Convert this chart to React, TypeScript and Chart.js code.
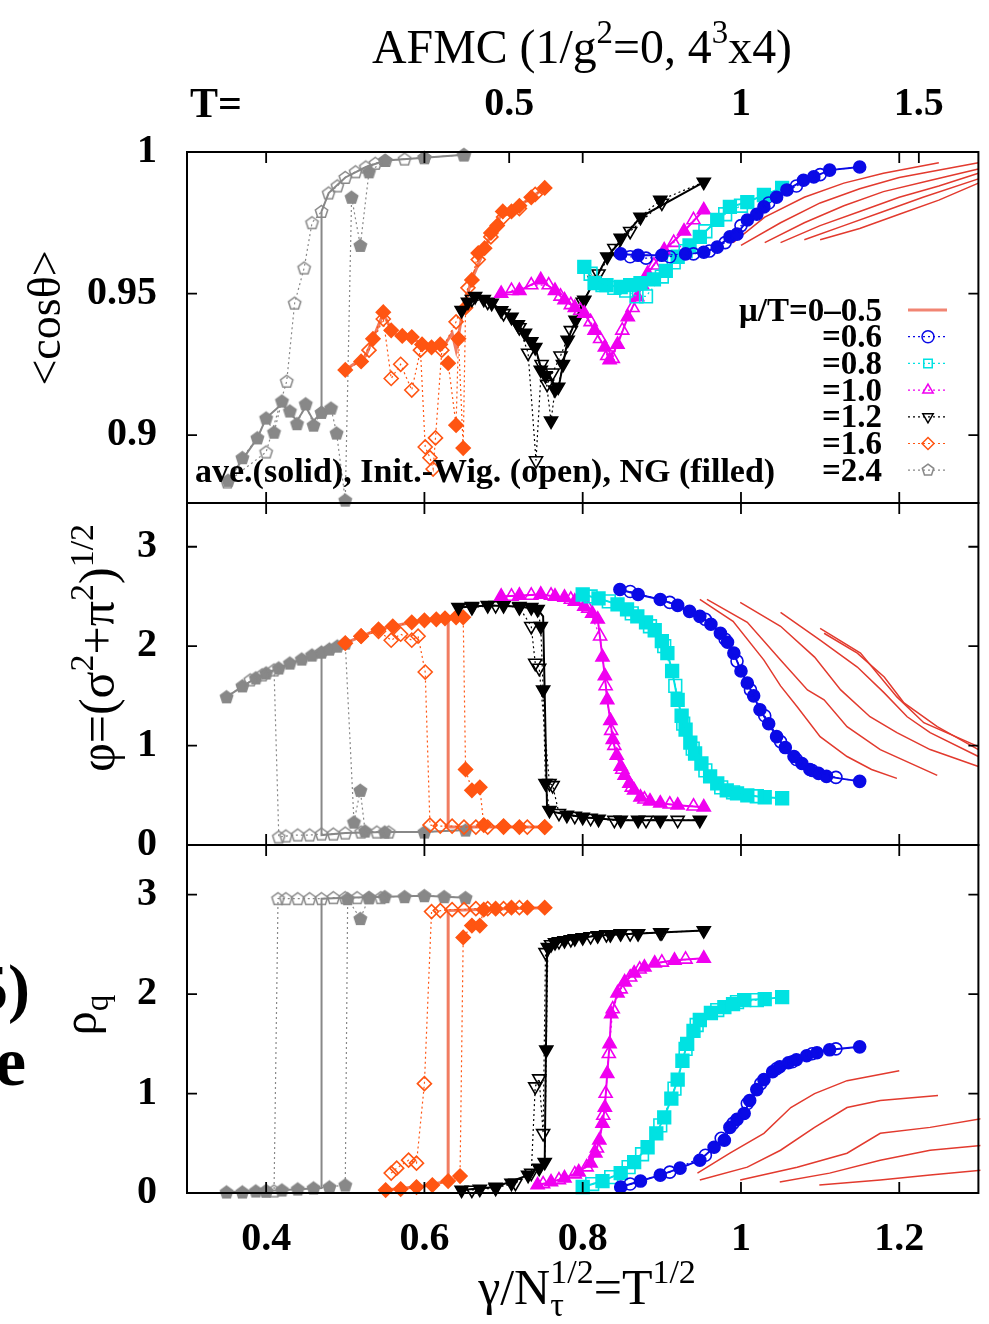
import React, { useEffect, useRef } from 'react';
import { Chart, registerables } from 'chart.js';

Chart.register(...registerables);

type Pt = [number, number];

// ---------- axes / labels ----------
const X_TICKS = [0.4, 0.6, 0.8, 1.0, 1.2];
const T_TICKS = [0.5, 1, 1.5];
const COS_TICKS = [0.9, 0.95, 1.0];
const PHI_TICKS = [0, 1, 2, 3];
const RHO_TICKS = [0, 1, 2, 3];
const LEGEND_LABELS = ['μ/T=0–0.5', '=0.6', '=0.8', '=1.0', '=1.2', '=1.6', '=2.4'];
const NOTE_TEXT = 'ave.(solid), Init.-Wig. (open), NG (filled)';

// ---------- <cos theta> panel ----------
const GRAY_COS_WIG: Pt[] = [[0.351,0.8834],[0.40,0.894],[0.426,0.919],[0.436,0.9466],[0.448,0.959],[0.458,0.975],[0.47,0.979],[0.479,0.9855],[0.49,0.988],[0.50,0.991],[0.513,0.993],[0.526,0.9947],[0.538,0.996],[0.551,0.997],[0.575,0.9975],[0.60,0.998],[0.65,0.999]];
const GRAY_COS_NG: Pt[] = [[0.352,0.884],[0.37,0.892],[0.389,0.899],[0.40,0.906],[0.41,0.901],[0.42,0.912],[0.43,0.9085],[0.439,0.904],[0.45,0.911],[0.46,0.9035],[0.47,0.908],[0.482,0.9095],[0.489,0.9007],[0.50,0.877],[0.508,0.984],[0.519,0.967],[0.53,0.993],[0.55,0.997],[0.60,0.998],[0.65,0.999]];
const GRAY_COS_AVE: Pt[] = [[0.352,0.884],[0.389,0.899],[0.40,0.906],[0.42,0.911],[0.439,0.905],[0.45,0.91],[0.46,0.905],[0.47,0.908],[0.47,0.979],[0.479,0.9855],[0.50,0.991],[0.526,0.9947],[0.551,0.997],[0.60,0.998],[0.65,0.999]];

const ORANGE_COS_WIG: Pt[] = [[0.53,0.93],[0.548,0.941],[0.558,0.920],[0.57,0.925],[0.584,0.9159],[0.595,0.93],[0.601,0.8958],[0.607,0.892],[0.611,0.888],[0.614,0.899],[0.622,0.93],[0.64,0.94],[0.655,0.952],[0.668,0.962],[0.684,0.97],[0.70,0.977],[0.72,0.98],[0.74,0.985]];
const ORANGE_COS_NG: Pt[] = [[0.50,0.923],[0.52,0.926],[0.535,0.934],[0.548,0.9434],[0.558,0.937],[0.572,0.935],[0.584,0.9346],[0.597,0.932],[0.609,0.931],[0.62,0.932],[0.63,0.9254],[0.64,0.9035],[0.643,0.934],[0.649,0.8954],[0.652,0.945],[0.66,0.9548],[0.668,0.9643],[0.676,0.966],[0.684,0.9714],[0.692,0.974],[0.699,0.979],[0.71,0.979],[0.72,0.981],[0.735,0.984],[0.752,0.9873]];
const ORANGE_COS_AVE: Pt[] = [[0.50,0.923],[0.526,0.928],[0.548,0.943],[0.56,0.936],[0.584,0.934],[0.609,0.931],[0.626,0.932],[0.635,0.936],[0.64,0.93],[0.649,0.945],[0.66,0.955],[0.684,0.971],[0.699,0.979],[0.72,0.981],[0.752,0.9873]];

const BLACK_COS_WIG: Pt[] = [[0.66,0.948],[0.68,0.947],[0.70,0.943],[0.72,0.938],[0.731,0.929],[0.741,0.891],[0.748,0.925],[0.755,0.918],[0.762,0.922],[0.772,0.928],[0.785,0.937],[0.80,0.947],[0.82,0.957],[0.84,0.966],[0.86,0.972],[0.90,0.982]];
const BLACK_COS_NG: Pt[] = [[0.647,0.9441],[0.655,0.947],[0.664,0.949],[0.675,0.948],[0.685,0.9466],[0.697,0.944],[0.71,0.9417],[0.718,0.939],[0.727,0.936],[0.735,0.933],[0.74,0.931],[0.747,0.923],[0.753,0.921],[0.76,0.905],[0.765,0.916],[0.769,0.917],[0.775,0.925],[0.781,0.9336],[0.791,0.9406],[0.802,0.9477],[0.815,0.9547],[0.831,0.963],[0.848,0.9696],[0.873,0.977],[0.898,0.983],[0.953,0.9894]];
const BLACK_COS_AVE: Pt[] = [[0.647,0.944],[0.664,0.949],[0.685,0.9466],[0.71,0.9417],[0.727,0.936],[0.74,0.931],[0.747,0.924],[0.76,0.9195],[0.769,0.916],[0.781,0.9336],[0.802,0.9477],[0.831,0.963],[0.873,0.977],[0.953,0.9894]];

const MAG_COS_WIG: Pt[] = [[0.71,0.951],[0.735,0.953],[0.757,0.953],[0.772,0.949],[0.785,0.946],[0.797,0.944],[0.81,0.94],[0.822,0.934],[0.831,0.928],[0.838,0.927],[0.85,0.937],[0.863,0.945],[0.875,0.953],[0.89,0.96],[0.915,0.968],[0.94,0.976]];
const MAG_COS_NG: Pt[] = [[0.697,0.950],[0.72,0.951],[0.747,0.9548],[0.765,0.951],[0.777,0.9477],[0.79,0.945],[0.802,0.943],[0.815,0.937],[0.828,0.931],[0.834,0.9265],[0.844,0.932],[0.857,0.9417],[0.869,0.9488],[0.882,0.957],[0.903,0.9653],[0.928,0.972],[0.953,0.9795]];

const CYAN_COS_WIG: Pt[] = [[0.81,0.957],[0.825,0.953],[0.84,0.952],[0.855,0.951],[0.868,0.949],[0.88,0.949],[0.9,0.956],[0.915,0.961],[0.93,0.965],[0.955,0.972],[0.98,0.978],[1.0,0.981]];
const CYAN_COS_NG: Pt[] = [[0.802,0.9594],[0.815,0.9537],[0.83,0.953],[0.848,0.9523],[0.86,0.953],[0.873,0.9537],[0.89,0.955],[0.905,0.958],[0.92,0.963],[0.935,0.967],[0.948,0.970],[0.97,0.976],[0.986,0.9806],[1.008,0.9823],[1.029,0.9848],[1.052,0.9873]];

const BLUE_COS_WIG: Pt[] = [[0.86,0.963],[0.88,0.9625],[0.91,0.963],[0.94,0.964],[0.96,0.965],[0.98,0.968],[1.0,0.974],[1.035,0.982],[1.07,0.988],[1.1,0.992]];
const BLUE_COS_NG: Pt[] = [[0.848,0.964],[0.87,0.9635],[0.9,0.9635],[0.93,0.964],[0.953,0.9646],[0.97,0.9664],[0.986,0.970],[0.995,0.971],[1.008,0.976],[1.02,0.978],[1.029,0.9806],[1.045,0.984],[1.058,0.9866],[1.079,0.99],[1.092,0.9912],[1.112,0.9936],[1.15,0.9947]];

const RED_COS_1: Pt[] = [[0.99,0.968],[1.03,0.977],[1.08,0.984],[1.13,0.989],[1.18,0.9925],[1.25,0.9962]];
const RED_COS_2: Pt[] = [[1.0,0.967],[1.05,0.975],[1.1,0.982],[1.15,0.987],[1.2,0.991],[1.3,0.9962]];
const RED_COS_3: Pt[] = [[1.03,0.968],[1.08,0.975],[1.13,0.981],[1.18,0.986],[1.24,0.99],[1.3,0.994]];
const RED_COS_4: Pt[] = [[1.05,0.968],[1.1,0.974],[1.15,0.979],[1.2,0.984],[1.25,0.988],[1.3,0.9925]];
const RED_COS_5: Pt[] = [[1.08,0.969],[1.13,0.974],[1.18,0.979],[1.23,0.984],[1.3,0.9905]];
const RED_COS_6: Pt[] = [[1.1,0.969],[1.15,0.973],[1.2,0.978],[1.25,0.983],[1.3,0.989]];

// ---------- phi panel ----------
const GRAY_PHI_WIG: Pt[] = [[0.38,1.66],[0.395,1.71],[0.41,1.76],[0.416,0.08],[0.425,0.09],[0.44,0.10],[0.455,0.10],[0.47,0.11],[0.485,0.11],[0.50,0.12],[0.52,0.13],[0.54,0.13],[0.555,0.13]];
const GRAY_PHI_NG: Pt[] = [[0.35,1.49],[0.37,1.6],[0.387,1.68],[0.40,1.73],[0.416,1.78],[0.43,1.83],[0.445,1.87],[0.458,1.91],[0.47,1.94],[0.48,1.97],[0.49,2.0],[0.50,2.03],[0.511,0.23],[0.519,0.55],[0.525,0.14],[0.55,0.13],[0.60,0.13],[0.652,0.15]];
const GRAY_PHI_AVE: Pt[] = [[0.35,1.49],[0.387,1.68],[0.416,1.78],[0.458,1.91],[0.47,1.93],[0.47,0.1],[0.5,0.12],[0.55,0.13],[0.60,0.13],[0.652,0.15]];

const ORANGE_PHI_WIG: Pt[] = [[0.52,2.1],[0.542,2.15],[0.558,2.06],[0.57,2.12],[0.584,2.06],[0.592,2.1],[0.601,1.74],[0.607,0.2],[0.62,0.19],[0.635,0.19],[0.65,0.18],[0.665,0.18],[0.68,0.18],[0.70,0.18],[0.73,0.18],[0.752,0.18]];
const ORANGE_PHI_NG: Pt[] = [[0.50,2.03],[0.52,2.1],[0.542,2.17],[0.56,2.2],[0.584,2.24],[0.60,2.26],[0.615,2.27],[0.626,2.28],[0.64,2.29],[0.649,2.29],[0.652,0.76],[0.66,0.55],[0.67,0.58],[0.675,0.2],[0.70,0.19],[0.72,0.18],[0.752,0.18]];
const ORANGE_PHI_AVE: Pt[] = [[0.50,2.03],[0.542,2.17],[0.584,2.24],[0.63,2.28],[0.63,0.18],[0.66,0.18],[0.70,0.18],[0.752,0.18]];

const BLACK_PHI_WIG: Pt[] = [[0.66,2.39],[0.69,2.41],[0.72,2.39],[0.735,2.2],[0.74,1.83],[0.745,1.78],[0.758,0.62],[0.762,0.6],[0.77,0.32],[0.79,0.29],[0.81,0.27],[0.84,0.25],[0.88,0.25],[0.92,0.25]];
const BLACK_PHI_NG: Pt[] = [[0.643,2.39],[0.66,2.4],[0.68,2.41],[0.70,2.41],[0.72,2.4],[0.735,2.39],[0.743,2.37],[0.747,2.2],[0.75,1.56],[0.753,0.62],[0.758,0.35],[0.78,0.3],[0.8,0.28],[0.82,0.26],[0.848,0.25],[0.87,0.25],[0.898,0.25],[0.948,0.25]];
const BLACK_PHI_AVE: Pt[] = [[0.643,2.39],[0.68,2.41],[0.72,2.4],[0.743,2.37],[0.75,2.3],[0.755,0.35],[0.765,0.33],[0.8,0.28],[0.848,0.25],[0.948,0.25]];

const MAG_PHI_WIG: Pt[] = [[0.71,2.5],[0.735,2.51],[0.76,2.51],[0.785,2.47],[0.807,2.38],[0.822,2.1],[0.829,1.6],[0.836,1.15],[0.84,1.0],[0.85,0.76],[0.862,0.58],[0.878,0.46],[0.91,0.41],[0.94,0.39]];
const MAG_PHI_NG: Pt[] = [[0.697,2.5],[0.72,2.51],[0.747,2.52],[0.765,2.5],[0.777,2.49],[0.79,2.45],[0.802,2.4],[0.812,2.33],[0.819,2.27],[0.825,1.89],[0.828,1.7],[0.831,1.46],[0.835,1.25],[0.838,1.06],[0.843,0.9],[0.848,0.79],[0.853,0.7],[0.859,0.62],[0.865,0.55],[0.873,0.48],[0.885,0.44],[0.898,0.42],[0.92,0.4],[0.953,0.38]];

const CYAN_PHI_WIG: Pt[] = [[0.81,2.5],[0.833,2.45],[0.862,2.33],[0.885,2.2],[0.903,2.0],[0.917,1.6],[0.927,1.22],[0.939,0.97],[0.955,0.75],[0.975,0.58],[0.99,0.53],[1.02,0.49]];
const CYAN_PHI_NG: Pt[] = [[0.8,2.52],[0.82,2.48],[0.844,2.42],[0.856,2.37],[0.869,2.3],[0.88,2.24],[0.891,2.16],[0.9,2.05],[0.907,1.93],[0.913,1.75],[0.92,1.46],[0.925,1.3],[0.93,1.16],[0.936,1.03],[0.942,0.92],[0.95,0.82],[0.961,0.69],[0.97,0.62],[0.982,0.55],[0.995,0.52],[1.008,0.5],[1.03,0.48],[1.052,0.47]];

const BLUE_PHI_WIG: Pt[] = [[0.86,2.55],[0.91,2.44],[0.955,2.27],[0.98,2.07],[0.995,1.85],[1.012,1.56],[1.03,1.3],[1.05,1.04],[1.07,0.86],[1.09,0.75],[1.12,0.68]];
const BLUE_PHI_NG: Pt[] = [[0.847,2.57],[0.87,2.52],[0.898,2.47],[0.92,2.41],[0.935,2.35],[0.948,2.3],[0.962,2.22],[0.974,2.13],[0.983,2.04],[0.991,1.93],[1.0,1.75],[1.008,1.63],[1.016,1.5],[1.024,1.36],[1.035,1.22],[1.045,1.09],[1.056,0.98],[1.067,0.89],[1.077,0.82],[1.087,0.76],[1.098,0.72],[1.108,0.69],[1.15,0.64]];

const RED_PHI_1: Pt[] = [[0.948,2.47],[0.99,2.25],[1.029,1.86],[1.05,1.6],[1.071,1.39],[1.1,1.09],[1.134,0.89],[1.165,0.76],[1.197,0.67]];
const RED_PHI_2: Pt[] = [[0.957,2.47],[1.008,2.24],[1.05,1.86],[1.084,1.56],[1.105,1.46],[1.134,1.19],[1.176,0.96],[1.248,0.7]];
const RED_PHI_3: Pt[] = [[0.999,2.44],[1.05,2.2],[1.093,1.89],[1.126,1.56],[1.163,1.29],[1.197,1.13],[1.239,0.96],[1.3,0.79]];
const RED_PHI_4: Pt[] = [[1.05,2.34],[1.1,2.06],[1.147,1.79],[1.181,1.53],[1.21,1.29],[1.239,1.13],[1.3,0.89]];
const RED_PHI_5: Pt[] = [[1.1,2.18],[1.151,1.93],[1.197,1.49],[1.231,1.23],[1.3,0.99]];
const RED_PHI_6: Pt[] = [[1.105,2.13],[1.147,1.93],[1.181,1.69],[1.206,1.43],[1.248,1.19],[1.3,0.96]];

// ---------- rho_q panel ----------
const GRAY_RHO_WIG: Pt[] = [[0.40,0.02],[0.41,0.02],[0.415,2.96],[0.425,2.96],[0.44,2.96],[0.455,2.96],[0.47,2.96],[0.485,2.97],[0.50,2.97],[0.515,2.97],[0.53,2.97],[0.545,2.97]];
const GRAY_RHO_NG: Pt[] = [[0.35,0.01],[0.37,0.01],[0.387,0.02],[0.40,0.02],[0.42,0.03],[0.44,0.04],[0.46,0.05],[0.48,0.06],[0.5,0.08],[0.503,2.96],[0.519,2.76],[0.53,2.97],[0.55,2.98],[0.575,2.98],[0.6,2.99],[0.625,2.98],[0.652,2.97]];
const GRAY_RHO_AVE: Pt[] = [[0.35,0.01],[0.40,0.02],[0.47,0.05],[0.47,2.96],[0.5,2.97],[0.55,2.98],[0.6,2.99],[0.652,2.97]];

const ORANGE_RHO_WIG: Pt[] = [[0.558,0.2],[0.565,0.25],[0.58,0.33],[0.59,0.3],[0.6,1.1],[0.609,2.83],[0.62,2.84],[0.635,2.85],[0.65,2.85],[0.665,2.86],[0.68,2.86],[0.70,2.86],[0.72,2.87]];
const ORANGE_RHO_NG: Pt[] = [[0.551,0.03],[0.57,0.04],[0.59,0.06],[0.61,0.08],[0.63,0.12],[0.645,0.17],[0.649,2.57],[0.66,2.69],[0.67,2.69],[0.675,2.85],[0.69,2.86],[0.71,2.87],[0.73,2.87],[0.752,2.87]];
const ORANGE_RHO_AVE: Pt[] = [[0.551,0.03],[0.6,0.07],[0.63,0.12],[0.63,2.84],[0.66,2.85],[0.70,2.86],[0.752,2.87]];

const BLACK_RHO_WIG: Pt[] = [[0.66,0.03],[0.69,0.05],[0.715,0.1],[0.735,0.2],[0.74,1.07],[0.745,1.15],[0.75,0.6],[0.753,2.42],[0.76,2.5],[0.77,2.53],[0.785,2.55],[0.81,2.58],[0.83,2.6],[0.86,2.61],[0.9,2.62]];
const BLACK_RHO_NG: Pt[] = [[0.647,0.03],[0.67,0.04],[0.69,0.06],[0.71,0.1],[0.731,0.18],[0.745,0.25],[0.752,0.31],[0.754,1.44],[0.756,2.47],[0.765,2.52],[0.777,2.54],[0.79,2.56],[0.80,2.57],[0.819,2.59],[0.835,2.6],[0.848,2.61],[0.87,2.61],[0.898,2.62],[0.953,2.64]];
const BLACK_RHO_AVE: Pt[] = [[0.647,0.03],[0.69,0.06],[0.731,0.18],[0.752,0.31],[0.755,2.47],[0.777,2.54],[0.819,2.59],[0.898,2.62],[0.953,2.64]];

const MAG_RHO_WIG: Pt[] = [[0.75,0.09],[0.77,0.13],[0.79,0.19],[0.805,0.26],[0.818,0.45],[0.826,0.78],[0.829,1.0],[0.833,1.4],[0.838,1.85],[0.848,2.05],[0.86,2.17],[0.872,2.25],[0.9,2.32],[0.93,2.35]];
const MAG_RHO_NG: Pt[] = [[0.743,0.08],[0.76,0.11],[0.777,0.15],[0.795,0.21],[0.81,0.3],[0.816,0.4],[0.821,0.53],[0.825,0.7],[0.828,0.86],[0.831,1.2],[0.834,1.5],[0.836,1.8],[0.844,2.01],[0.853,2.12],[0.865,2.21],[0.878,2.27],[0.891,2.31],[0.916,2.34],[0.953,2.36]];

const CYAN_RHO_WIG: Pt[] = [[0.812,0.09],[0.836,0.16],[0.858,0.26],[0.875,0.39],[0.898,0.68],[0.916,1.05],[0.93,1.45],[0.944,1.69],[0.97,1.84],[0.995,1.92],[1.02,1.94]];
const CYAN_RHO_NG: Pt[] = [[0.8,0.06],[0.825,0.12],[0.848,0.2],[0.865,0.31],[0.882,0.46],[0.893,0.6],[0.903,0.76],[0.912,0.95],[0.92,1.14],[0.926,1.33],[0.932,1.5],[0.94,1.63],[0.948,1.74],[0.962,1.81],[0.979,1.87],[0.99,1.9],[1.004,1.94],[1.03,1.95],[1.052,1.97]];

const BLUE_RHO_WIG: Pt[] = [[0.86,0.09],[0.91,0.21],[0.955,0.38],[0.975,0.55],[0.99,0.7],[1.008,0.9],[1.025,1.1],[1.045,1.25],[1.065,1.32],[1.09,1.4],[1.12,1.45]];
const BLUE_RHO_NG: Pt[] = [[0.848,0.06],[0.873,0.12],[0.898,0.18],[0.923,0.25],[0.948,0.33],[0.966,0.46],[0.979,0.53],[0.986,0.66],[0.995,0.74],[1.004,0.8],[1.011,0.93],[1.02,1.04],[1.029,1.14],[1.04,1.22],[1.049,1.27],[1.06,1.31],[1.07,1.34],[1.083,1.38],[1.096,1.41],[1.112,1.44],[1.15,1.47]];

const RED_RHO_1: Pt[] = [[0.945,0.2],[0.986,0.4],[1.029,0.6],[1.063,0.86],[1.093,1.0],[1.134,1.13],[1.2,1.23]];
const RED_RHO_2: Pt[] = [[0.948,0.13],[1.008,0.26],[1.05,0.43],[1.093,0.66],[1.134,0.86],[1.176,0.93],[1.249,0.98]];
const RED_RHO_3: Pt[] = [[0.999,0.13],[1.071,0.26],[1.134,0.4],[1.176,0.6],[1.239,0.66],[1.305,0.75]];
const RED_RHO_4: Pt[] = [[1.049,0.11],[1.112,0.2],[1.176,0.33],[1.239,0.43],[1.305,0.48]];
const RED_RHO_5: Pt[] = [[1.099,0.08],[1.176,0.13],[1.239,0.18],[1.305,0.23]];

// ---------- styling ----------
type Key = 'blue' | 'cyan' | 'mag' | 'black' | 'orange' | 'gray';
const SERIES_ORDER: Key[] = ['blue', 'cyan', 'mag', 'black', 'orange', 'gray'];
const SERIES: Record<Key, { color: string; shape: string; r: number; rot: number }> = {
  blue: { color: '#0a0ae6', shape: 'circle', r: 6, rot: 0 },
  cyan: { color: '#00e2e2', shape: 'rect', r: 9, rot: 0 },
  mag: { color: '#f000f0', shape: 'triangle', r: 7.5, rot: 0 },
  black: { color: '#000000', shape: 'triangle', r: 7.5, rot: 180 },
  orange: { color: '#ff5512', shape: 'rectRot', r: 7, rot: 0 },
  gray: { color: '#888888', shape: 'pentagon', r: 6.5, rot: 0 },
};
const RED = '#e23a2e';
const FONT = '"Liberation Serif", "Times New Roman", serif';

type PanelKey = 'cos' | 'phi' | 'rho';
type Group = { wig: Pt[]; ng: Pt[]; ave: Pt[] };
const PANEL_DATA: Record<PanelKey, { red: Pt[][]; series: Record<Key, Group> }> = {
  cos: {
    red: [RED_COS_1, RED_COS_2, RED_COS_3, RED_COS_4, RED_COS_5, RED_COS_6],
    series: {
      blue: { wig: BLUE_COS_WIG, ng: BLUE_COS_NG, ave: BLUE_COS_NG },
      cyan: { wig: CYAN_COS_WIG, ng: CYAN_COS_NG, ave: CYAN_COS_NG },
      mag: { wig: MAG_COS_WIG, ng: MAG_COS_NG, ave: MAG_COS_NG },
      black: { wig: BLACK_COS_WIG, ng: BLACK_COS_NG, ave: BLACK_COS_AVE },
      orange: { wig: ORANGE_COS_WIG, ng: ORANGE_COS_NG, ave: ORANGE_COS_AVE },
      gray: { wig: GRAY_COS_WIG, ng: GRAY_COS_NG, ave: GRAY_COS_AVE },
    },
  },
  phi: {
    red: [RED_PHI_1, RED_PHI_2, RED_PHI_3, RED_PHI_4, RED_PHI_5, RED_PHI_6],
    series: {
      blue: { wig: BLUE_PHI_WIG, ng: BLUE_PHI_NG, ave: BLUE_PHI_NG },
      cyan: { wig: CYAN_PHI_WIG, ng: CYAN_PHI_NG, ave: CYAN_PHI_NG },
      mag: { wig: MAG_PHI_WIG, ng: MAG_PHI_NG, ave: MAG_PHI_NG },
      black: { wig: BLACK_PHI_WIG, ng: BLACK_PHI_NG, ave: BLACK_PHI_AVE },
      orange: { wig: ORANGE_PHI_WIG, ng: ORANGE_PHI_NG, ave: ORANGE_PHI_AVE },
      gray: { wig: GRAY_PHI_WIG, ng: GRAY_PHI_NG, ave: GRAY_PHI_AVE },
    },
  },
  rho: {
    red: [RED_RHO_1, RED_RHO_2, RED_RHO_3, RED_RHO_4, RED_RHO_5],
    series: {
      blue: { wig: BLUE_RHO_WIG, ng: BLUE_RHO_NG, ave: BLUE_RHO_NG },
      cyan: { wig: CYAN_RHO_WIG, ng: CYAN_RHO_NG, ave: CYAN_RHO_NG },
      mag: { wig: MAG_RHO_WIG, ng: MAG_RHO_NG, ave: MAG_RHO_NG },
      black: { wig: BLACK_RHO_WIG, ng: BLACK_RHO_NG, ave: BLACK_RHO_AVE },
      orange: { wig: ORANGE_RHO_WIG, ng: ORANGE_RHO_NG, ave: ORANGE_RHO_AVE },
      gray: { wig: GRAY_RHO_WIG, ng: GRAY_RHO_NG, ave: GRAY_RHO_AVE },
    },
  },
};

// geometry of the page
const AREA_LEFT = 187;
const AREA_RIGHT = 983;
const PAGE_W = 989;
const PAGE_H = 1324;
const GEOM: Record<PanelKey, { top: number; height: number; areaTop: number; areaBottom: number }> = {
  cos: { top: 0, height: 540, areaTop: 152, areaBottom: 503 },
  phi: { top: 480, height: 400, areaTop: 503, areaBottom: 845 },
  rho: { top: 820, height: 504, areaTop: 845, areaBottom: 1193 },
};

type Seg = { t: string; v?: 'sup' | 'sub'; keep?: boolean };
const TITLE_SEGS: Seg[] = [{ t: 'AFMC (1/g' }, { t: '2', v: 'sup' }, { t: '=0, 4' }, { t: '3', v: 'sup' }, { t: 'x4)' }];
const COS_LABEL: Seg[] = [{ t: '<cosθ>' }];
const PHI_LABEL: Seg[] = [{ t: 'φ=(σ' }, { t: '2', v: 'sup' }, { t: '+π' }, { t: '2', v: 'sup' }, { t: ')' }, { t: '1/2', v: 'sup' }];
const RHO_LABEL: Seg[] = [{ t: 'ρ' }, { t: 'q', v: 'sub' }];
const X_LABEL: Seg[] = [{ t: 'γ/N' }, { t: 'τ', v: 'sub', keep: true }, { t: '1/2', v: 'sup' }, { t: '=T' }, { t: '1/2', v: 'sup' }];

function drawRich(ctx: CanvasRenderingContext2D, segs: Seg[], x: number, y: number, size: number, weight: string, align: 'left' | 'center' | 'right', rotate = 0, targetW = 0) {
  ctx.save();
  ctx.translate(x, y);
  if (rotate) ctx.rotate(rotate);
  const fontOf = (s: Seg) => `${weight} ${s.v ? Math.round(size * 0.68) : size}px ${FONT}`;
  let w = 0;
  for (const s of segs) {
    ctx.font = fontOf(s);
    if (!s.keep) w += ctx.measureText(s.t).width;
  }
  const sx = targetW ? targetW / w : 1;
  ctx.scale(sx, 1);
  let cx = align === 'center' ? -w / 2 : align === 'right' ? -w : 0;
  ctx.textAlign = 'left';
  ctx.textBaseline = 'alphabetic';
  ctx.fillStyle = '#000';
  for (const s of segs) {
    ctx.font = fontOf(s);
    const dy = s.v === 'sup' ? -size * 0.42 : s.v === 'sub' ? size * 0.24 : 0;
    ctx.fillText(s.t, cx, dy);
    if (!s.keep) cx += ctx.measureText(s.t).width;
  }
  ctx.restore();
}

function shapePath(ctx: CanvasRenderingContext2D, shape: string, x: number, y: number, r: number, rot: number) {
  ctx.beginPath();
  if (shape === 'circle') ctx.arc(x, y, r, 0, Math.PI * 2);
  else if (shape === 'rect') {
    const h = r * Math.SQRT1_2;
    ctx.rect(x - h, y - h, 2 * h, 2 * h);
  } else if (shape === 'rectRot') {
    ctx.moveTo(x, y - r); ctx.lineTo(x + r, y); ctx.lineTo(x, y + r); ctx.lineTo(x - r, y); ctx.closePath();
  } else {
    const n = shape === 'pentagon' ? 5 : 3;
    let a = (rot * Math.PI) / 180;
    for (let i = 0; i < n; i++) {
      const px = x + Math.sin(a) * r;
      const py = y - Math.cos(a) * r;
      if (i) ctx.lineTo(px, py); else ctx.moveTo(px, py);
      a += (2 * Math.PI) / n;
    }
    ctx.closePath();
  }
}

function pentagonImage(color: string, filled: boolean, r: number) {
  const s = Math.ceil(r * 2 + 4);
  const c = document.createElement('canvas');
  c.width = s; c.height = s;
  const g = c.getContext('2d')!;
  shapePath(g, 'pentagon', s / 2, s / 2 + 0.5, r, 0);
  if (filled) { g.fillStyle = color; g.fill(); }
  g.lineWidth = 1.5; g.strokeStyle = color; g.stroke();
  return c;
}

const toXY = (pts: Pt[]) => pts.map(([x, y]) => ({ x, y }));

function buildDatasets(panel: PanelKey) {
  const d = PANEL_DATA[panel];
  const out: any[] = [];
  for (const key of SERIES_ORDER) {
    const s = SERIES[key];
    const g = d.series[key];
    for (const filled of [false, true]) {
      const style = s.shape === 'pentagon' ? pentagonImage(s.color, filled, s.r) : s.shape;
      out.push({
        data: toXY(filled ? g.ng : g.wig), xAxisID: 'x', yAxisID: 'y', order: 1, clip: 8,
        borderColor: s.color, backgroundColor: s.color, borderWidth: 1.2, borderDash: [2, 3],
        pointStyle: style, pointRadius: s.r, pointRotation: s.rot, pointBorderWidth: 1.6,
        pointBorderColor: s.color, pointBackgroundColor: filled ? s.color : 'rgba(0,0,0,0)',
      });
    }
    out.push({
      data: toXY(g.ave), xAxisID: 'x', yAxisID: 'y', order: 2, clip: 4,
      borderColor: key === 'orange' ? 'rgba(240,110,80,0.9)' : s.color,
      borderWidth: key === 'orange' ? 3 : 2, pointRadius: 0,
    });
  }
  for (const r of d.red) {
    out.push({ data: toXY(r), xAxisID: 'x', yAxisID: 'y', order: 3, clip: 2, borderColor: RED, borderWidth: 1.5, pointRadius: 0 });
  }
  return out;
}

const fmt = (v: number) => String(Math.round(v * 100) / 100);
const TICK_FONT = { family: FONT, size: 40, weight: 'bold' as const };

function makeConfig(panel: PanelKey): any {
  const g = GEOM[panel];
  const yRange = panel === 'cos' ? [0.876, 1.0] : panel === 'phi' ? [0, 3.44] : [0, 3.5];
  const yTicks = panel === 'cos' ? COS_TICKS : panel === 'phi' ? PHI_TICKS : RHO_TICKS;
  const showX = panel === 'rho';
  const scales: any = {
    x: {
      type: 'linear', position: 'bottom', min: 0.3, max: 1.3, display: showX,
      grid: { display: false, drawTicks: false }, border: { display: false },
      afterBuildTicks: (ax: any) => { ax.ticks = X_TICKS.map((v) => ({ value: v })); },
      afterFit: (ax: any) => { ax.height = showX ? PAGE_H - GEOM.rho.areaBottom : 0; ax.paddingLeft = 0; ax.paddingRight = 0; },
      ticks: { padding: 23, color: '#000', font: TICK_FONT, autoSkip: false, maxRotation: 0, callback: (v: number) => fmt(v) },
    },
    y: {
      type: 'linear', position: 'left', min: yRange[0], max: yRange[1],
      grid: { display: false, drawTicks: false }, border: { display: false },
      afterBuildTicks: (ax: any) => { ax.ticks = yTicks.map((v) => ({ value: v })); },
      afterFit: (ax: any) => { ax.width = AREA_LEFT; ax.paddingTop = 0; ax.paddingBottom = 0; },
      ticks: { padding: 30, color: '#000', font: TICK_FONT, autoSkip: false, callback: (v: number) => fmt(v) },
    },
  };
  if (panel === 'cos') {
    scales.xT = {
      type: 'linear', position: 'top', min: 0.3, max: 1.3,
      grid: { display: false, drawTicks: false }, border: { display: false },
      afterBuildTicks: (ax: any) => { ax.ticks = T_TICKS.map((t) => ({ value: Math.sqrt(t) })); },
      afterFit: (ax: any) => { ax.height = GEOM.cos.areaTop; ax.paddingLeft = 0; ax.paddingRight = 0; },
      ticks: { padding: 23, color: '#000', font: TICK_FONT, autoSkip: false, maxRotation: 0, callback: (_v: number, i: number) => String(T_TICKS[i]) },
    };
  }
  const padding = {
    left: 0,
    right: PAGE_W - AREA_RIGHT,
    top: panel === 'cos' ? 0 : g.areaTop - g.top,
    bottom: panel === 'rho' ? 0 : g.top + g.height - g.areaBottom,
  };
  return {
    type: 'line',
    data: { datasets: buildDatasets(panel) },
    options: {
      responsive: false, maintainAspectRatio: false, animation: false, devicePixelRatio: 1, events: [],
      layout: { padding },
      plugins: { legend: { display: false }, tooltip: { enabled: false }, title: { display: false } },
      scales,
    },
    plugins: [decoPlugin(panel)],
  };
}

function decoPlugin(panel: PanelKey) {
  const top = GEOM[panel].top;
  const Y = (py: number) => py - top;
  return {
    id: 'deco_' + panel,
    afterDraw(chart: any) {
      const { ctx, chartArea: a, scales } = chart;
      const xs = scales.x, ys = scales.y;
      ctx.save();
      ctx.setLineDash([]);
      ctx.strokeStyle = '#000';
      ctx.lineWidth = 2;
      ctx.strokeRect(a.left, a.top, a.right - a.left, a.bottom - a.top);
      ctx.lineWidth = 1.8;
      ctx.beginPath();
      for (const v of X_TICKS) {
        const px = xs.getPixelForValue(v);
        ctx.moveTo(px, a.bottom); ctx.lineTo(px, a.bottom - 11);
        ctx.moveTo(px, a.top); ctx.lineTo(px, a.top + 11);
      }
      if (panel === 'cos') {
        for (const t of T_TICKS) {
          const px = scales.xT.getPixelForValue(Math.sqrt(t));
          ctx.moveTo(px, a.top); ctx.lineTo(px, a.top + 11);
        }
      }
      const yt = panel === 'cos' ? COS_TICKS : panel === 'phi' ? PHI_TICKS : RHO_TICKS;
      for (const v of yt) {
        const py = ys.getPixelForValue(v);
        if (py <= a.top + 1 || py >= a.bottom - 1) continue;
        ctx.moveTo(a.left, py); ctx.lineTo(a.left + 10, py);
        ctx.moveTo(a.right, py); ctx.lineTo(a.right - 10, py);
      }
      ctx.stroke();

      if (panel === 'cos') {
        drawRich(ctx, TITLE_SEGS, 582, Y(63), 48, 'normal', 'center', 0, 420);
        ctx.font = `bold 42px ${FONT}`;
        ctx.fillStyle = '#000';
        ctx.textAlign = 'left';
        ctx.textBaseline = 'middle';
        ctx.fillText('T=', 190, Y(106));
        drawRich(ctx, COS_LABEL, 60, Y(318), 46, 'normal', 'center', -Math.PI / 2);
        // note
        ctx.font = `bold 34px ${FONT}`;
        ctx.textAlign = 'left';
        ctx.textBaseline = 'alphabetic';
        ctx.fillText(NOTE_TEXT, 195, Y(482));
        // legend
        for (let i = 0; i < LEGEND_LABELS.length; i++) {
          const ly = Y(310 + i * 26.7);
          ctx.font = `bold 33px ${FONT}`;
          ctx.textAlign = 'right';
          ctx.textBaseline = 'middle';
          ctx.fillStyle = '#000';
          ctx.fillText(LEGEND_LABELS[i], 882, ly + 2);
          if (i === 0) {
            ctx.setLineDash([]);
            ctx.strokeStyle = 'rgba(240,120,100,0.9)';
            ctx.lineWidth = 3;
            ctx.beginPath(); ctx.moveTo(908, ly); ctx.lineTo(947, ly); ctx.stroke();
          } else {
            const s = SERIES[SERIES_ORDER[i - 1]];
            ctx.strokeStyle = s.color;
            ctx.lineWidth = 1.2;
            ctx.setLineDash([2, 3]);
            ctx.beginPath(); ctx.moveTo(908, ly); ctx.lineTo(947, ly); ctx.stroke();
            ctx.setLineDash([]);
            ctx.lineWidth = 1.5;
            shapePath(ctx, s.shape, 928, ly, Math.min(s.r, 6), s.rot);
            ctx.stroke();
          }
        }
      } else if (panel === 'phi') {
        drawRich(ctx, PHI_LABEL, 114, Y(648), 50, 'normal', 'center', -Math.PI / 2);
      } else {
        drawRich(ctx, RHO_LABEL, 96, Y(1015), 48, 'normal', 'center', -Math.PI / 2);
        drawRich(ctx, X_LABEL, 587, Y(1304), 50, 'normal', 'center');
        ctx.fillStyle = '#000';
        ctx.textAlign = 'right';
        ctx.textBaseline = 'alphabetic';
        ctx.font = `bold 66px ${FONT}`;
        ctx.fillText('5)', 30, Y(1010));
        ctx.font = `bold 70px ${FONT}`;
        ctx.fillText('e', 26, Y(1085));
      }
      ctx.restore();
    },
  };
}

export default function App() {
  const cosRef = useRef<HTMLCanvasElement>(null);
  const phiRef = useRef<HTMLCanvasElement>(null);
  const rhoRef = useRef<HTMLCanvasElement>(null);

  useEffect(() => {
    const charts = [
      new Chart(cosRef.current!, makeConfig('cos')),
      new Chart(phiRef.current!, makeConfig('phi')),
      new Chart(rhoRef.current!, makeConfig('rho')),
    ];
    return () => charts.forEach((c) => c.destroy());
  }, []);

  const cs = (p: PanelKey): React.CSSProperties => ({
    position: 'absolute', left: 0, top: GEOM[p].top, width: PAGE_W, height: GEOM[p].height, display: 'block',
  });

  return (
    <div style={{ position: 'absolute', left: 0, top: 0, width: PAGE_W, height: PAGE_H, background: '#fff', overflow: 'hidden' }}>
      <canvas ref={cosRef} width={PAGE_W} height={GEOM.cos.height} style={cs('cos')} />
      <canvas ref={phiRef} width={PAGE_W} height={GEOM.phi.height} style={cs('phi')} />
      <canvas ref={rhoRef} width={PAGE_W} height={GEOM.rho.height} style={cs('rho')} />
    </div>
  );
}
